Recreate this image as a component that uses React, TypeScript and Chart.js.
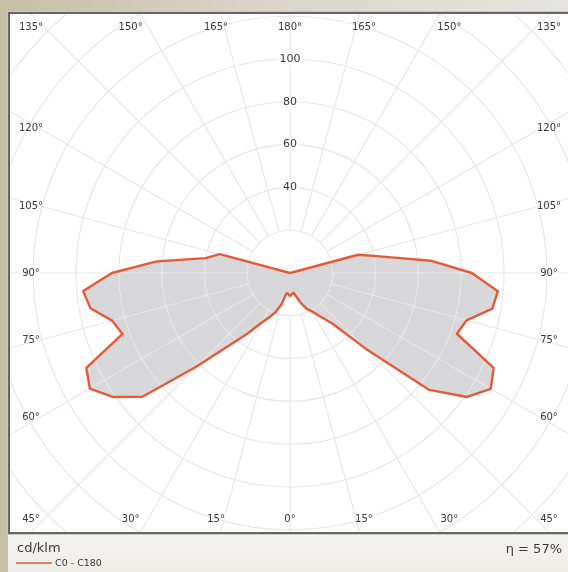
import React, { useEffect, useRef } from 'react';
import { Chart, registerables } from 'chart.js';

Chart.register(...registerables);

// ---- data (luminous intensity, cd/klm) ----
const gammaAngles = [0, 5, 10, 15, 20, 25, 30, 35, 40, 45, 50, 55, 60, 65, 70, 75, 80, 85, 90, 95, 100, 105, 110, 115, 120, 125, 130, 135, 140, 145, 150, 155, 160, 165, 170, 175, 180];
const c0Values = [11, 9.8, 9.4, 11.5, 15, 18.5, 20.8, 25, 31, 50, 85, 101, 108.3, 105, 83, 85.4, 96, 97.5, 85, 66, 44, 33, 0, 0, 0, 0, 0, 0, 0, 0, 0, 0, 0, 0, 0, 0, 0];
const c180Values = [11, 9.8, 9.6, 15, 19.3, 22.8, 27, 34.5, 44, 62, 90, 101, 108, 105, 83.3, 86, 94.7, 97, 83.2, 62.5, 40, 34, 0, 0, 0, 0, 0, 0, 0, 0, 0, 0, 0, 0, 0, 0, 0];

const radialTicks = [40, 60, 80, 100];
const gridRadii = [20, 40, 60, 80, 100, 120, 140, 160, 180];
const spokeAngles = [0, 15, 30, 45, 60, 75, 90, 105, 120, 135, 150, 165, 180, 195, 210, 225, 240, 255, 270, 285, 300, 315, 330, 345];
const topRowAngles = [135, 150, 165, 180, 165, 150, 135];
const bottomRowAngles = [45, 30, 15, 0, 15, 30, 45];
const sideAngles = [120, 105, 90, 75, 60];

const unitLabel = 'cd/klm';
const efficiencyLabel = 'η = 57%';
const legendLabel = 'C0 - C180';

// ---- styling / layout ----
const CURVE = '#e55a39';
const FILL = '#d8d8db';
const GRID = '#e7e7e7';
const TEXT = '#3a3a3a';
const FONT = '"DejaVu Sans", Verdana, sans-serif';
const PAD = { left: 10, right: 10, top: 14, bottom: 40 };
const CANVAS_W = 580;
const CANVAS_H = 572;
const PX_PER_UNIT = 2.14;
const xHalf = (CANVAS_W - PAD.left - PAD.right) / 2 / PX_PER_UNIT;
const yHalf = (CANVAS_H - PAD.top - PAD.bottom) / 2 / PX_PER_UNIT;

const rad = (d: number) => (d * Math.PI) / 180;
const toPoint = (g: number, r: number, side: number) => ({
  x: side * r * Math.sin(rad(g)),
  y: -r * Math.cos(rad(g)),
});

const rightSide = gammaAngles.map((g, i) => toPoint(g, c0Values[i], 1));
const leftSide = gammaAngles.map((g, i) => toPoint(g, c180Values[i], -1)).reverse();
const curvePoints = [...rightSide, ...leftSide];

const polarPlugin = {
  id: 'polarPhotometric',
  beforeDraw(chart: any) {
    const { ctx, chartArea: a, width, height } = chart;
    ctx.save();
    const g = ctx.createLinearGradient(0, 0, width, 0);
    g.addColorStop(0, '#c4bfa5');
    g.addColorStop(0.45, '#d9d5c9');
    g.addColorStop(1, '#e7e5e0');
    ctx.fillStyle = g;
    ctx.fillRect(0, 0, width, height);
    const g2 = ctx.createLinearGradient(0, a.bottom, 0, height);
    g2.addColorStop(0, '#f6f5f2');
    g2.addColorStop(1, '#efede7');
    ctx.fillStyle = g2;
    ctx.fillRect(8, a.bottom, width - 8, height - a.bottom);
    ctx.fillStyle = '#fefefe';
    ctx.fillRect(a.left, a.top, a.right - a.left, a.bottom - a.top);
    ctx.restore();
  },
  beforeDatasetsDraw(chart: any) {
    const { ctx, chartArea: a, scales } = chart;
    const cx = scales.x.getPixelForValue(0);
    const cy = scales.y.getPixelForValue(0);
    const unit = scales.x.getPixelForValue(1) - cx;
    ctx.save();
    ctx.beginPath();
    ctx.rect(a.left, a.top, a.right - a.left, a.bottom - a.top);
    ctx.clip();
    ctx.strokeStyle = GRID;
    ctx.lineWidth = 1.1;
    gridRadii.forEach((r) => {
      ctx.beginPath();
      ctx.arc(cx, cy, r * unit, 0, Math.PI * 2);
      ctx.stroke();
    });
    const inner = gridRadii[0] * unit;
    const outer = 220 * unit;
    spokeAngles.forEach((d) => {
      const sx = Math.sin(rad(d));
      const sy = Math.cos(rad(d));
      ctx.beginPath();
      ctx.moveTo(cx + sx * inner, cy + sy * inner);
      ctx.lineTo(cx + sx * outer, cy + sy * outer);
      ctx.stroke();
    });
    ctx.restore();
  },
  afterDraw(chart: any) {
    const { ctx, chartArea: a, scales } = chart;
    const cx = scales.x.getPixelForValue(0);
    const cy = scales.y.getPixelForValue(0);
    ctx.save();
    // radial value labels
    ctx.font = `11px ${FONT}`;
    ctx.textAlign = 'center';
    ctx.textBaseline = 'middle';
    radialTicks.forEach((v) => {
      const py = scales.y.getPixelForValue(v);
      const w = ctx.measureText(String(v)).width;
      ctx.fillStyle = '#fefefe';
      ctx.fillRect(cx - w / 2 - 2, py - 6, w + 4, 12);
      ctx.fillStyle = TEXT;
      ctx.fillText(String(v), cx, py);
    });
    // angle labels around the frame
    ctx.font = `10px ${FONT}`;
    const maxDx = cx - a.left - 21;
    const place = (dev: number) => Math.min(276 * Math.tan(rad(dev)), maxDx);
    topRowAngles.forEach((ang, i) => {
      const side = i < 3 ? -1 : i === 3 ? 0 : 1;
      const dx = side * place(180 - ang);
      ctx.fillStyle = TEXT;
      ctx.fillText(`${ang}°`, cx + dx, a.top + 13);
    });
    bottomRowAngles.forEach((ang, i) => {
      const side = i < 3 ? -1 : i === 3 ? 0 : 1;
      const dx = side * place(ang);
      ctx.fillText(`${ang}°`, cx + dx, a.bottom - 13);
    });
    sideAngles.forEach((ang) => {
      const py = cy - 250 * Math.tan(rad(ang - 90));
      ctx.fillText(`${ang}°`, a.left + 21, py);
      ctx.fillText(`${ang}°`, a.right - 21, py);
    });
    // frame
    ctx.strokeStyle = '#c9c9c9';
    ctx.lineWidth = 1;
    ctx.strokeRect(a.left - 2.5, a.top - 2.5, a.right - a.left + 5, a.bottom - a.top + 5);
    ctx.strokeStyle = '#666';
    ctx.lineWidth = 2;
    ctx.strokeRect(a.left - 1, a.top - 1, a.right - a.left + 2, a.bottom - a.top + 2);
    // texts under the diagram
    ctx.fillStyle = TEXT;
    ctx.font = `13px ${FONT}`;
    ctx.textAlign = 'left';
    ctx.fillText(unitLabel, 17, 549);
    ctx.textAlign = 'right';
    ctx.fillText(efficiencyLabel, 562, 550);
    ctx.strokeStyle = CURVE;
    ctx.lineWidth = 1.5;
    ctx.beginPath();
    ctx.moveTo(16, 563);
    ctx.lineTo(52, 563);
    ctx.stroke();
    ctx.font = `9.5px ${FONT}`;
    ctx.textAlign = 'left';
    ctx.fillText(legendLabel, 55, 564);
    ctx.restore();
  },
};

export default function App() {
  const ref = useRef<HTMLCanvasElement>(null);
  useEffect(() => {
    const canvas = ref.current;
    if (!canvas) return;
    const chart = new Chart(canvas, {
      type: 'scatter',
      data: {
        datasets: [
          {
            label: legendLabel,
            data: curvePoints,
            showLine: true,
            borderColor: CURVE,
            borderWidth: 2.4,
            backgroundColor: FILL,
            fill: 'shape',
            pointRadius: 0,
            pointHoverRadius: 0,
            tension: 0,
            borderJoinStyle: 'round',
          } as any,
        ],
      },
      options: {
        responsive: false,
        animation: false,
        devicePixelRatio: 1,
        events: [],
        layout: { padding: PAD },
        scales: {
          x: { type: 'linear', min: -xHalf, max: xHalf, display: false },
          y: { type: 'linear', min: -yHalf, max: yHalf, display: false },
        },
        plugins: {
          legend: { display: false },
          tooltip: { enabled: false },
          filler: { drawTime: 'beforeDatasetsDraw' },
        } as any,
      },
      plugins: [polarPlugin],
    });
    return () => chart.destroy();
  }, []);
  return (
    <div style={{ position: 'fixed', left: 0, top: 0, width: 568, height: 572, overflow: 'hidden' }}>
      <canvas ref={ref} width={CANVAS_W} height={CANVAS_H} style={{ display: 'block', width: CANVAS_W, height: CANVAS_H }} />
    </div>
  );
}
